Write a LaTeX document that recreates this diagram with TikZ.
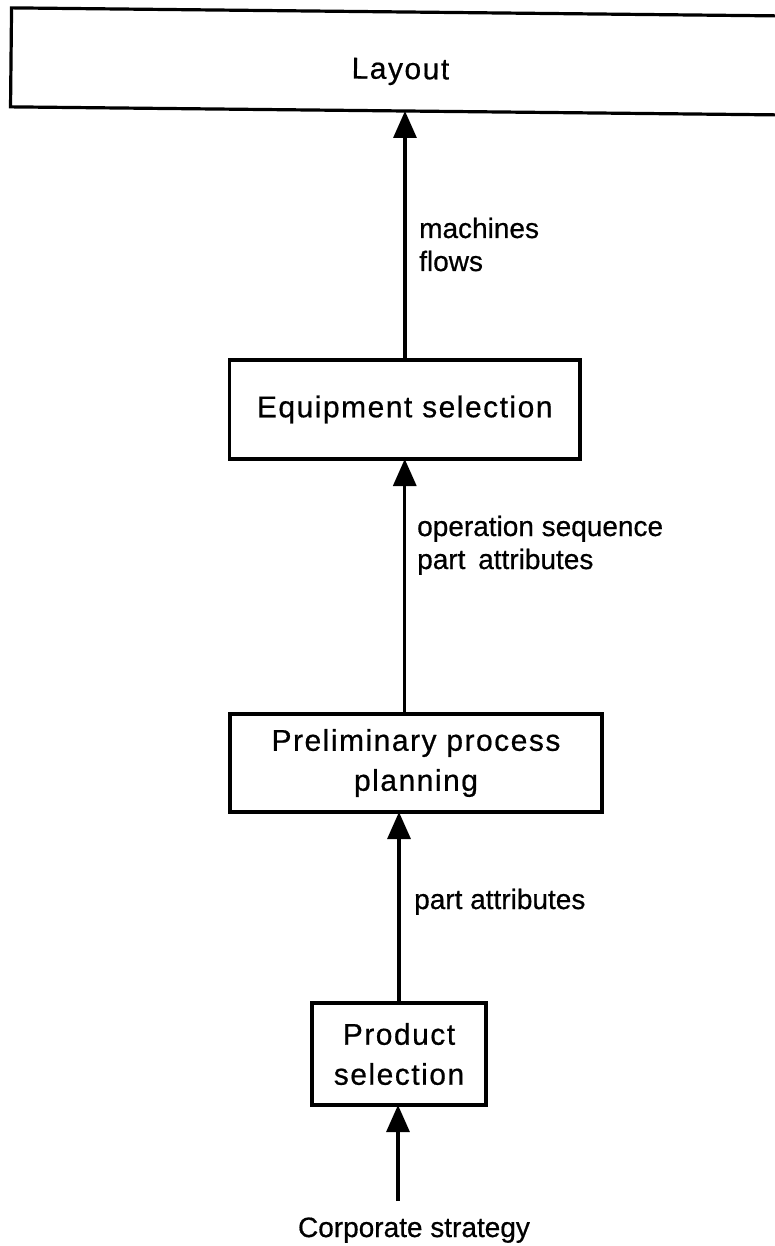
\documentclass[tikz,border=0pt]{standalone}
\usepackage{fontspec}
\setmainfont{Liberation Sans}
\newfontfamily\boxfont[LetterSpace=5,FakeBold=0.6]{Liberation Sans}
\newfontfamily\labfont[FakeBold=0.6]{Liberation Sans}
\usetikzlibrary{arrows.meta}

\begin{document}
\begin{tikzpicture}[x=1pt,y=-1pt,
  stage/.style={draw, line width=3.2pt, inner sep=0pt, outer sep=0pt,
    align=center, font=\boxfont\fontsize{30}{40}\selectfont},
  flowlabel/.style={anchor=base west, inner sep=0pt,
    font=\labfont\fontsize{28}{33}\selectfont},
  conn/.style={line width=3.2pt, -{Triangle[width=23pt,length=27pt]}}]
\useasboundingbox (0,0) rectangle (774,1246);

% planning stages, bottom to top
\node[stage, rotate=-0.6, minimum width=789pt, minimum height=99pt,
      text height=35pt, text depth=0pt] (layout) at (405.5,61.5)
  {\hspace{-10pt}Layout};
\node[stage, minimum width=350.5pt, minimum height=99pt] (equip) at (404.75,409.5)
  {Equipment selection};
\node[stage, minimum width=372pt, minimum height=98pt] (prelim) at (416,763)
  {Preliminary process\\planning};
\node[stage, minimum width=174pt, minimum height=102pt] (product) at (399,1054)
  {Product\\selection};

% input
\node[anchor=base, inner sep=0pt, font=\labfont\fontsize{28}{33}\selectfont]
  (strategy) at (414,1237) {Corporate strategy};
\coordinate (cstail) at (398,1201);

% information passed between stages
\draw[conn] (cstail) -- (cstail |- product.south);
\draw[conn] (product.north) -- (product.north |- prelim.south);
\draw[conn] (prelim.north -| equip.south) -- (equip.south);
\draw[conn] (equip.north -| layout.south) -- (layout.south);

\node[flowlabel] (lbmach) at (419,238) {machines};
\node[flowlabel] (lbflow) at (419,271) {flows};
\node[flowlabel] (lbopseq) at (417,536) {operation sequence};
\node[flowlabel] (lbattr) at (417,569) {part\hspace{5pt} attributes};
\node[flowlabel] (lbattrb) at (414,909) {part attributes};
\end{tikzpicture}
\end{document}
